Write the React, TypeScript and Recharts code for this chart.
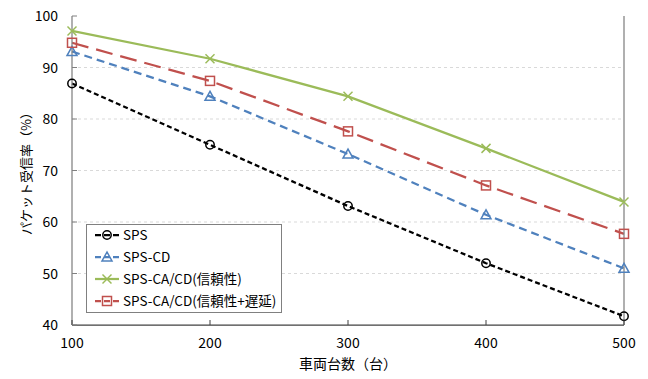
import React from 'react';
import { LineChart, Line, XAxis, YAxis, CartesianGrid, Legend, Label } from 'recharts';

const vehicles = [100, 200, 300, 400, 500];
const spsValues = [86.9, 75.0, 63.1, 52.0, 41.7];
const spsCdValues = [93.1, 84.4, 73.2, 61.4, 51.0];
const spsCaCdReliability = [97.1, 91.7, 84.4, 74.3, 63.9];
const spsCaCdReliabilityDelay = [94.8, 87.4, 77.6, 67.1, 57.7];
const yTicks = [40, 50, 60, 70, 80, 90, 100];
const gridValues = [50, 60, 70, 80, 90];

const xTitle = '車両台数（台）';
const yTitle = 'パケット受信率（%）';

type MarkerKind = 'circle' | 'triangle' | 'x' | 'square';

const series: { key: string; name: string; color: string; dash?: string; marker: MarkerKind }[] = [
  { key: 'sps', name: 'SPS', color: '#000000', dash: '5 3', marker: 'circle' },
  { key: 'spsCd', name: 'SPS-CD', color: '#4F81BD', dash: '8 5', marker: 'triangle' },
  { key: 'rel', name: 'SPS-CA/CD(信頼性)', color: '#9BBB59', marker: 'x' },
  { key: 'relDelay', name: 'SPS-CA/CD(信頼性+遅延)', color: '#C0504D', dash: '17 8', marker: 'square' },
];

const data = vehicles.map((v, i) => ({
  x: v,
  sps: spsValues[i],
  spsCd: spsCdValues[i],
  rel: spsCaCdReliability[i],
  relDelay: spsCaCdReliabilityDelay[i],
}));

const FONT = '"Noto Sans CJK JP", "Noto Sans", sans-serif';

function Marker({ cx, cy, kind, color }: { cx: number; cy: number; kind: MarkerKind; color: string }) {
  const sw = 1.5;
  if (kind === 'circle') return <circle cx={cx} cy={cy} r={4.2} fill="none" stroke={color} strokeWidth={sw} />;
  if (kind === 'triangle')
    return (
      <polygon
        points={`${cx},${cy - 5} ${cx - 5},${cy + 4} ${cx + 5},${cy + 4}`}
        fill="none"
        stroke={color}
        strokeWidth={sw}
      />
    );
  if (kind === 'square')
    return <rect x={cx - 4.5} y={cy - 4.5} width={9} height={9} fill="none" stroke={color} strokeWidth={sw} />;
  return (
    <g stroke={color} strokeWidth={sw}>
      <line x1={cx - 4.5} y1={cy - 4.5} x2={cx + 4.5} y2={cy + 4.5} />
      <line x1={cx - 4.5} y1={cy + 4.5} x2={cx + 4.5} y2={cy - 4.5} />
    </g>
  );
}

function LegendBox() {
  const rowY = (i: number) => 11 + i * 22;
  return (
    <svg width={196} height={89} style={{ display: 'block' }}>
      <rect x={0.5} y={0.5} width={195} height={88} fill="#ffffff" stroke="#808080" strokeWidth={1} />
      {series.map((s, i) => (
        <g key={s.key}>
          <line
            x1={9}
            x2={33}
            y1={rowY(i)}
            y2={rowY(i)}
            stroke={s.color}
            strokeWidth={2.25}
            strokeDasharray={s.dash ? '6 3' : undefined}
          />
          <Marker cx={21} cy={rowY(i)} kind={s.marker} color={s.color} />
          <text x={37} y={rowY(i) + 4.5} fontSize={13.5} fill="#000" fontFamily={FONT}>
            {s.name}
          </text>
        </g>
      ))}
    </svg>
  );
}

const XTick = (props: any) => {
  const { x, y, payload } = props;
  return (
    <g>
      <line x1={x} x2={x} y1={y} y2={y - 5} stroke="#404040" strokeWidth={1} />
      <text x={x} y={y + 23} textAnchor="middle" fontSize={14} fill="#000" fontFamily={FONT}>
        {payload.value}
      </text>
    </g>
  );
};

const YTick = (props: any) => {
  const { x, y, payload } = props;
  return (
    <g>
      <line x1={x} x2={x + 5} y1={y} y2={y} stroke="#808080" strokeWidth={1} />
      <text x={x - 14} y={y + 5} textAnchor="end" fontSize={14} fill="#000" fontFamily={FONT}>
        {payload.value}
      </text>
    </g>
  );
};

const RTick = (props: any) => {
  const { x, y } = props;
  return <line x1={x} x2={x - 5} y1={y} y2={y} stroke="#808080" strokeWidth={1} />;
};

export default function App() {
  return (
    <div style={{ position: 'absolute', left: 0, top: 0, width: 648, height: 379, background: '#fff' }}>
      <LineChart
        width={648}
        height={379}
        data={data}
        margin={{ top: 16, right: 0, bottom: 0, left: 0 }}
        style={{ fontFamily: FONT }}
      >
        <CartesianGrid
          vertical={false}
          horizontalValues={gridValues}
          stroke="#d9d9d9"
          strokeDasharray="3 3"
        />
        <XAxis
          dataKey="x"
          type="number"
          domain={[100, 500]}
          ticks={vehicles}
          height={54}
          tickSize={0}
          tickMargin={0}
          tickLine={false}
          axisLine={{ stroke: '#404040', strokeWidth: 1.25 }}
          tick={XTick}
          interval={0}
        >
          <Label
            content={(p: any) => {
              const vb = p.viewBox;
              return (
                <text
                  x={vb.x + vb.width / 2}
                  y={vb.y + 44}
                  textAnchor="middle"
                  fontSize={14}
                  fill="#000"
                  fontFamily={FONT}
                >
                  {xTitle}
                </text>
              );
            }}
          />
        </XAxis>
        <YAxis
          domain={[40, 100]}
          ticks={yTicks}
          width={72}
          tickSize={0}
          tickMargin={0}
          tickLine={false}
          axisLine={{ stroke: '#808080', strokeWidth: 1.25 }}
          tick={YTick}
          interval={0}
        >
          <Label
            content={(p: any) => {
              const vb = p.viewBox;
              const cx = vb.x + 25;
              const cy = vb.y + vb.height / 2;
              return (
                <text
                  x={cx}
                  y={cy}
                  transform={`rotate(-90, ${cx}, ${cy})`}
                  textAnchor="middle"
                  dominantBaseline="central"
                  fontSize={13}
                  fill="#000"
                  fontFamily={FONT}
                >
                  {yTitle}
                </text>
              );
            }}
          />
        </YAxis>
        <YAxis
          yAxisId="right"
          orientation="right"
          domain={[40, 100]}
          ticks={yTicks}
          width={24}
          tickSize={0}
          tickMargin={0}
          tickLine={false}
          axisLine={{ stroke: '#808080', strokeWidth: 1.25 }}
          tick={RTick}
          interval={0}
        />
        <Legend
          layout="vertical"
          align="center"
          verticalAlign="middle"
          wrapperStyle={{ left: 86, top: 224, width: 196, height: 89 }}
          content={() => <LegendBox />}
        />
        {series.map((s) => (
          <Line
            key={s.key}
            dataKey={s.key}
            name={s.name}
            stroke={s.color}
            strokeWidth={2.25}
            strokeDasharray={s.dash}
            isAnimationActive={false}
            dot={(p: any) => (
              <Marker key={`${s.key}-${p.index}`} cx={p.cx} cy={p.cy} kind={s.marker} color={s.color} />
            )}
            activeDot={false}
          />
        ))}
      </LineChart>
    </div>
  );
}
